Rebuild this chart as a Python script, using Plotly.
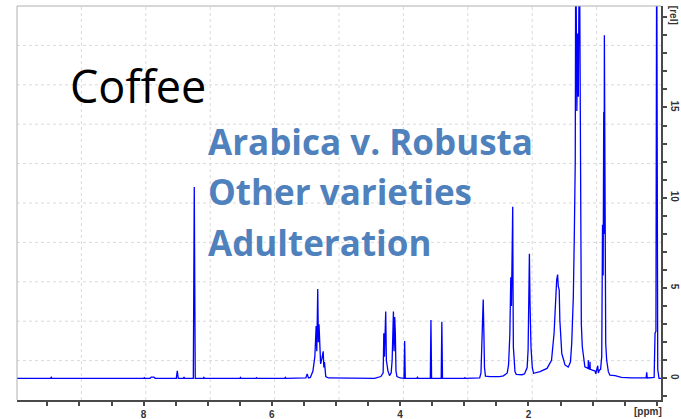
import plotly.graph_objects as go

# 1H NMR spectrum of a coffee extract: chemical shift (ppm) and relative intensity
ppm = [
    9.974, 9.45, 9.44, 9.43, 8.00, 7.99, 7.98, 7.90, 7.88, 7.84, 7.82,
    7.49, 7.475, 7.46, 7.38, 7.37, 7.36, 7.225, 7.21, 7.195, 7.07, 7.06, 7.05,
    6.50, 6.49, 6.48, 6.25, 6.24, 6.23, 5.80, 5.79, 5.78,
    5.47, 5.45, 5.43, 5.40, 5.36, 5.34, 5.33, 5.31, 5.30, 5.285, 5.275, 5.265,
    5.25, 5.24, 5.22, 5.20, 5.19, 5.18, 5.16, 5.12,
    4.40, 4.30, 4.265, 4.255, 4.245, 4.235, 4.225, 4.215, 4.205, 4.19, 4.165,
    4.14, 4.125, 4.115, 4.105, 4.095, 4.085, 4.075, 4.065, 4.05, 4.00,
    3.94, 3.93, 3.92, 3.74, 3.73, 3.72, 3.53, 3.52, 3.51, 3.36, 3.35, 3.34,
    3.00, 2.99, 2.98, 2.76, 2.74, 2.725, 2.715, 2.705, 2.695, 2.685, 2.67,
    2.60, 2.45, 2.39, 2.33, 2.31, 2.29, 2.275, 2.265, 2.255, 2.245, 2.24,
    2.235, 2.21, 2.19, 2.10, 2.06, 2.02, 2.005, 1.99, 1.985, 1.975, 1.96,
    1.94, 1.92, 1.82, 1.71, 1.64, 1.60, 1.585, 1.57, 1.56, 1.545, 1.535,
    1.52, 1.51, 1.48, 1.43, 1.38, 1.345, 1.325, 1.30, 1.285, 1.27, 1.262,
    1.245, 1.232, 1.222, 1.205, 1.19, 1.175, 1.16, 1.145, 1.12, 1.07, 1.066,
    1.062, 1.044, 1.04, 1.036, 1.00, 0.96, 0.95, 0.935, 0.92, 0.91, 0.895,
    0.875, 0.857, 0.845, 0.835, 0.826, 0.82, 0.816, 0.808, 0.795, 0.78,
    0.754, 0.73, 0.65, 0.55, 0.40, 0.165, 0.156, 0.147, 0.04, 0.026, 0.012,
    0.0, -0.016, -0.036, -0.067,
]
intensity = [
    0.0, 0.0, 0.06, 0.0, 0.0, 0.04, 0.0, 0.0, 0.07, 0.07, 0.0,
    0.0, 0.42, 0.0, 0.0, 0.07, 0.0, 0.0, 10.6, 0.0, 0.0, 0.05, 0.0,
    0.0, 0.05, 0.0, 0.0, 0.04, 0.0, 0.0, 0.05, 0.0,
    0.02, 0.25, 0.02, 0.05, 0.4, 0.9, 1.2, 2.9, 1.5, 4.95, 2.0, 3.0,
    1.9, 0.8, 1.1, 1.5, 0.6, 0.9, 0.1, 0.02,
    0.0, 0.1, 0.3, 2.5, 1.2, 3.0, 3.7, 1.0, 0.55, 0.4, 0.15,
    0.3, 1.0, 3.5, 3.7, 1.5, 3.4, 2.5, 0.4, 0.1, 0.02,
    0.0, 2.06, 0.0, 0.0, 0.06, 0.0, 0.0, 3.23, 0.0, 0.0, 3.13, 0.0,
    0.0, 0.04, 0.0, 0.02, 0.3, 2.2, 2.7, 4.37, 2.6, 0.6, 0.12,
    0.09, 0.1, 0.14, 0.3, 0.74, 2.4, 5.6, 4.0, 8.0, 9.5, 5.0,
    1.75, 0.37, 0.22, 0.2, 0.25, 0.6, 1.6, 5.5, 6.9, 4.15, 1.75,
    0.6, 0.28, 0.37, 0.55, 1.0, 2.5, 3.6, 5.0, 5.44, 5.75, 5.1,
    4.9, 3.2, 1.38, 0.74, 0.62, 0.9, 1.94, 4.5, 7.8, 12.0, 25.0,
    14.8, 19.1, 15.6, 25.0, 9.0, 3.0, 1.75, 1.2, 0.64, 0.55, 1.0,
    0.55, 0.5, 0.92, 0.5, 0.45, 0.4, 0.25, 0.5, 0.7, 0.3, 0.45,
    0.5, 1.2, 8.5, 5.7, 14.75, 8.0, 19.0, 6.0, 1.94, 1.0,
    0.37, 0.18, 0.15, 0.05, 0.02, 0.02, 0.33, 0.02, 0.05, 2.5, 2.6,
    25.0, 0.5, 0.0, 0.0,
]

# Axis ticks and labels
x_ticks = [9.5, 9.0, 8.5, 8.0, 7.5, 7.0, 6.5, 6.0, 5.5, 5.0, 4.5, 4.0,
           3.5, 3.0, 2.5, 2.0, 1.5, 1.0, 0.5, 0.0]
x_labelled = [8, 6, 4, 2]
y_ticks = list(range(-1, 21))
y_labelled = [0, 5, 10, 15]

title_text = "Coffee"
topics = ["Arabica v. Robusta", "Other varieties", "Adulteration"]

X_RANGE = [9.974, -0.067]
Y_RANGE = [-1.2, 20.62]

AXIS_DARK = "#4a4a4a"
FRAME_LIGHT = "#b0b0b0"
GRID = "#dadada"
TOPIC_BLUE = "#4f81bd"
TICK_FONT = dict(family="Liberation Sans", size=10, color="#333333")

fig = go.Figure()
fig.add_trace(go.Scatter(
    x=ppm, y=intensity, mode="lines",
    line=dict(color="#0000ff", width=1.3),
    hoverinfo="skip", showlegend=False,
))

# Dotted grid: ten equal divisions of the plotting area
shapes = []
for k in range(1, 10):
    f = k / 10
    shapes.append(dict(type="line", xref="paper", yref="paper",
                       x0=f, x1=f, y0=0, y1=1,
                       line=dict(color=GRID, width=1, dash="dot"), layer="below"))
    shapes.append(dict(type="line", xref="paper", yref="paper",
                       x0=0, x1=1, y0=f, y1=f,
                       line=dict(color=GRID, width=1, dash="dot"), layer="below"))
# Light frame on top and left
shapes.append(dict(type="line", xref="paper", yref="paper", x0=0, x1=1, y0=1, y1=1,
                   line=dict(color=FRAME_LIGHT, width=1)))
shapes.append(dict(type="line", xref="paper", yref="paper", x0=0, x1=0, y0=0, y1=1,
                   line=dict(color=FRAME_LIGHT, width=1)))

annotations = [
    dict(text=title_text, xref="paper", yref="paper", x=0.079, y=0.797,
         xanchor="left", yanchor="middle", showarrow=False,
         font=dict(family="Open Sans", size=45, color="#000000")),
    dict(text="<b>[ppm]</b>", xref="paper", yref="paper", x=0.98, y=-0.028,
         xanchor="center", yanchor="middle", showarrow=False,
         font=TICK_FONT),
    dict(text="<b>[rel]</b>", xref="paper", yref="paper", x=1.0186, y=0.975,
         xanchor="center", yanchor="middle", showarrow=False, textangle=90,
         font=TICK_FONT),
]
topic_y = [0.655, 0.528, 0.40]
for txt, yy in zip(topics, topic_y):
    annotations.append(dict(
        text="<b>%s</b>" % txt, xref="paper", yref="paper", x=0.293, y=yy,
        xanchor="left", yanchor="middle", showarrow=False,
        font=dict(family="Open Sans", size=35, color=TOPIC_BLUE)))

fig.update_layout(
    width=681, height=419,
    margin=dict(l=17, r=20, t=6, b=19),
    paper_bgcolor="#ffffff", plot_bgcolor="#ffffff",
    shapes=shapes, annotations=annotations,
    xaxis=dict(
        range=X_RANGE, showgrid=False, zeroline=False, automargin=False,
        showline=True, linecolor=AXIS_DARK, linewidth=1.5,
        ticks="outside", ticklen=4, tickcolor=AXIS_DARK, tickwidth=1.5,
        tickvals=x_ticks,
        ticktext=["<b>%d</b>" % v if v in x_labelled else "" for v in x_ticks],
        tickfont=TICK_FONT,
    ),
    yaxis=dict(
        range=Y_RANGE, side="right", showgrid=False, zeroline=False, automargin=False,
        showline=True, linecolor=AXIS_DARK, linewidth=1.5,
        ticks="outside", ticklen=4, tickcolor=AXIS_DARK, tickwidth=1.5,
        tickvals=y_ticks,
        ticktext=["<b>%d</b>" % v if v in y_labelled else "" for v in y_ticks],
        tickangle=90, tickfont=TICK_FONT,
    ),
)

fig.write_html("out.html")
